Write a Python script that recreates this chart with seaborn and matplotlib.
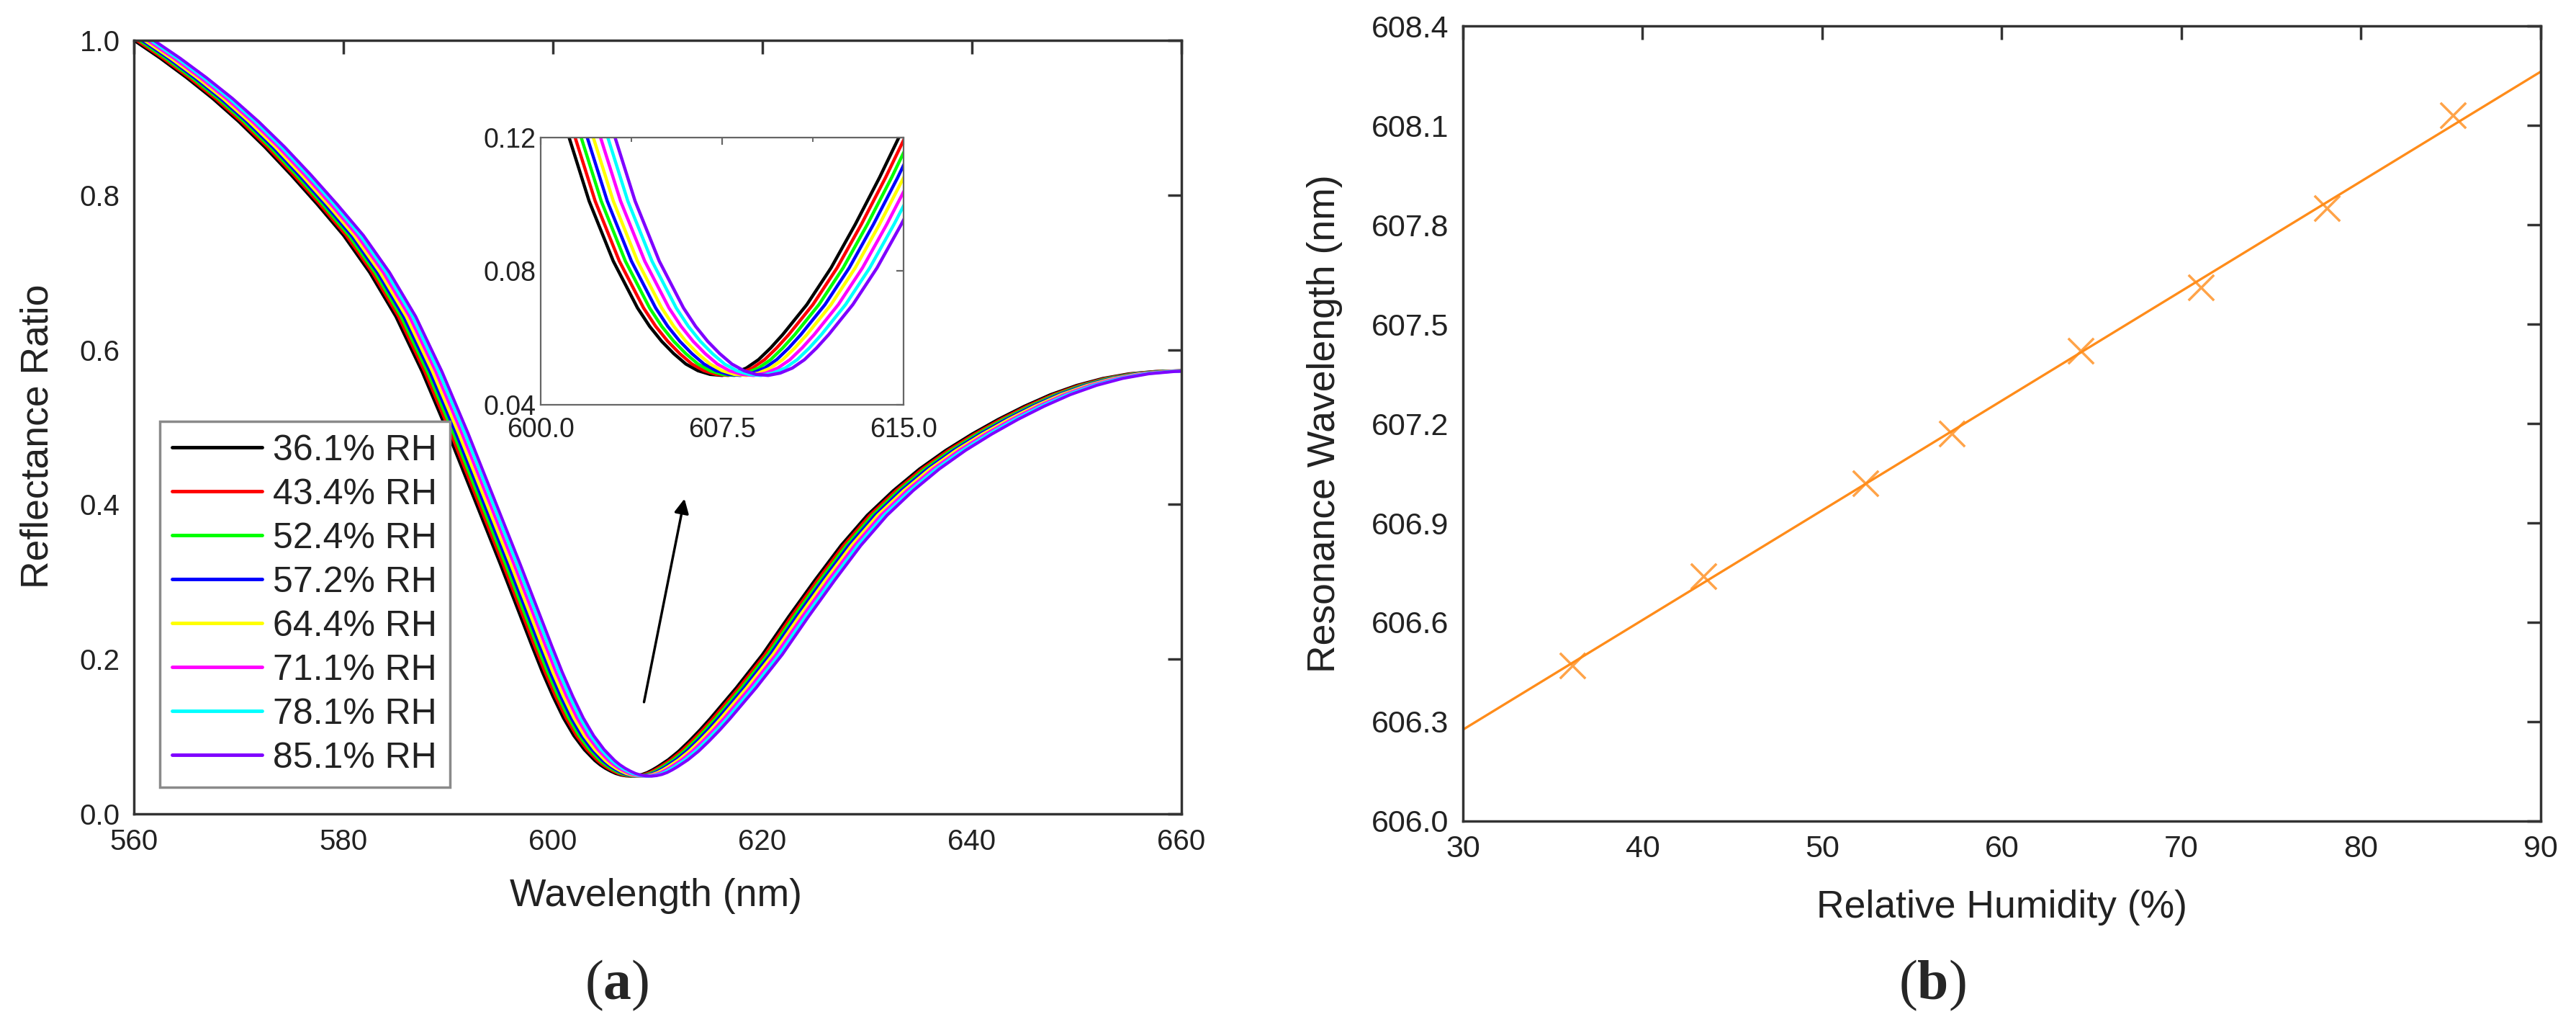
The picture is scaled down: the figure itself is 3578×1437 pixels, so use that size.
import numpy as np
import pandas as pd
import seaborn as sns
import matplotlib.pyplot as plt
from matplotlib.ticker import MultipleLocator, FormatStrFormatter

# spectrum of the 36.1% RH sample
wl_nm = [560, 562.5, 565, 567.5, 570, 572.5, 575, 577.5, 580, 582.5, 585, 587.5,
         590, 592.5, 595, 597, 598, 599, 600, 601, 602, 603, 604, 604.5, 605,
         605.5, 606, 606.5, 607, 607.5, 608, 608.5, 609, 609.5, 610, 610.5, 611,
         612, 613, 614, 615, 617.5, 620, 622.5, 625, 627.5, 630, 632.5, 635,
         637.5, 640, 642.5, 645, 647.5, 650, 652.5, 655, 657.5, 660]
refl_36 = [1.000, 0.977, 0.952, 0.925, 0.895, 0.862, 0.826, 0.788, 0.748, 0.700, 0.643, 0.572,
           0.492, 0.407, 0.322, 0.252, 0.217, 0.183, 0.152, 0.124, 0.101, 0.083, 0.069, 0.0635, 0.059,
           0.0553, 0.0522, 0.0502, 0.0491, 0.0488, 0.0495, 0.051, 0.0535, 0.057, 0.061, 0.0655, 0.070,
           0.081, 0.094, 0.108, 0.123, 0.163, 0.206, 0.255, 0.302, 0.347, 0.386, 0.418, 0.446,
           0.470, 0.491, 0.510, 0.527, 0.542, 0.554, 0.563, 0.569, 0.572, 0.573]

# red-shift of each spectrum relative to 36.1% RH, nm
rh_labels = ['36.1% RH', '43.4% RH', '52.4% RH', '57.2% RH',
             '64.4% RH', '71.1% RH', '78.1% RH', '85.1% RH']
shift_nm = [0.0, 0.25, 0.5, 0.75, 1.0, 1.3, 1.6, 1.9]
line_colors = ['#000000', '#FF0000', '#00FF00', '#0000FF',
               '#FFFF00', '#FF00FF', '#00FFFF', '#7F00FF']

# panel b
rh_pct = [36.1, 43.4, 52.4, 57.2, 64.4, 71.1, 78.1, 85.1]
res_nm = [606.47, 606.74, 607.02, 607.17, 607.42, 607.61, 607.85, 608.13]
orange = '#FF8C1A'

sns.set_style('white')
plt.rcParams['font.family'] = ['Liberation Sans', 'DejaVu Sans']
plt.rcParams['mathtext.fontset'] = 'custom'
plt.rcParams['mathtext.rm'] = 'Liberation Serif'
plt.rcParams['mathtext.bf'] = 'Liberation Serif:bold'

rows = []
for lab, s in zip(rh_labels, shift_nm):
    for w, r in zip(wl_nm, refl_36):
        rows.append((lab, w + s, r))
spec = pd.DataFrame(rows, columns=['RH', 'wl', 'R'])
pal = dict(zip(rh_labels, line_colors))

fig = plt.figure(figsize=(35.78, 14.37), dpi=100)
ax = fig.add_axes([0.0520, 0.2136, 0.4066, 0.7474])
ax2 = fig.add_axes([0.5679, 0.2067, 0.4184, 0.7682])
axin = fig.add_axes([0.2099, 0.6089, 0.1409, 0.2582])

spine_col = '#333333'


def style_axes(a, size, tick_len, lw, col):
    for sp in a.spines.values():
        sp.set_color(col)
        sp.set_linewidth(lw)
    a.tick_params(direction='in', length=tick_len, width=lw, top=True, right=True,
                  labelsize=size, colors=col, labelcolor='#222222')


# ---- panel a
sns.lineplot(data=spec, x='wl', y='R', hue='RH', hue_order=rh_labels, palette=pal,
             estimator=None, sort=False, lw=3, ax=ax)
ax.set_xlim(560, 660)
ax.set_ylim(0, 1.0)
ax.xaxis.set_major_locator(MultipleLocator(20))
ax.yaxis.set_major_locator(MultipleLocator(0.2))
ax.yaxis.set_major_formatter(FormatStrFormatter('%.1f'))
style_axes(ax, 29, 14, 2.5, spine_col)
ax.tick_params(axis='x', pad=14)
ax.tick_params(axis='y', pad=14)
ax.set_xlabel('Wavelength (nm)', fontsize=38.5, color='#222222', va='center')
ax.set_ylabel('Reflectance Ratio', fontsize=38.5, color='#222222', va='center')
ax.xaxis.set_label_coords(0.498, -0.106)
ax.yaxis.set_label_coords(-0.092, 0.488)

handles, labels = ax.get_legend_handles_labels()
leg = ax.legend(handles, labels, loc='lower left', bbox_to_anchor=(0.0247, 0.0345),
                borderaxespad=0, fontsize=36, handlelength=2.5, handletextpad=0.3,
                labelspacing=0.3, borderpad=0.35, fancybox=False, framealpha=1)
leg.get_frame().set_edgecolor('#8a8a8a')
leg.get_frame().set_linewidth(2.5)
for t in leg.get_texts():
    t.set_color('#222222')
for h in leg.get_lines():
    h.set_linewidth(3.5)

ax.annotate('', xy=(612.6, 0.41), xytext=(608.66, 0.142),
            arrowprops=dict(arrowstyle='-|>', color='black', lw=2.5, mutation_scale=30))

# inset zoom on the dip
sns.lineplot(data=spec, x='wl', y='R', hue='RH', hue_order=rh_labels, palette=pal,
             estimator=None, sort=False, lw=3.2, ax=axin, legend=False)
axin.set_xlim(600, 615)
axin.set_ylim(0.04, 0.12)
axin.set_xticks([600, 607.5, 615])
axin.set_yticks([0.04, 0.08, 0.12])
axin.xaxis.set_minor_locator(MultipleLocator(3.75))
axin.xaxis.set_major_formatter(FormatStrFormatter('%.1f'))
axin.yaxis.set_major_formatter(FormatStrFormatter('%.2f'))
style_axes(axin, 27, 7, 1.6, '#666666')
axin.tick_params(which='minor', direction='in', length=4, width=1.4, top=True, colors='#666666')
axin.tick_params(axis='x', pad=12)
axin.tick_params(axis='y', pad=5)
axin.set_xlabel('')
axin.set_ylabel('')

# ---- panel b
ax2.set_xlim(30, 90)
sns.regplot(x=rh_pct, y=res_nm, ax=ax2, ci=None, truncate=False, marker='x', color=orange,
            scatter_kws=dict(s=650, linewidths=2.5), line_kws=dict(lw=2.4))
ax2.set_xlim(30, 90)
ax2.set_ylim(606.0, 608.4)
ax2.xaxis.set_major_locator(MultipleLocator(10))
ax2.yaxis.set_major_locator(MultipleLocator(0.3))
ax2.yaxis.set_major_formatter(FormatStrFormatter('%.1f'))
style_axes(ax2, 31, 14, 2.5, spine_col)
ax2.tick_params(axis='x', pad=14)
ax2.tick_params(axis='y', pad=14)
ax2.set_xlabel('Relative Humidity (%)', fontsize=38.5, color='#222222', va='center')
ax2.set_ylabel('Resonance Wavelength (nm)', fontsize=38.5, color='#222222', va='center')
ax2.xaxis.set_label_coords(0.500, -0.109)
ax2.yaxis.set_label_coords(-0.128, 0.5)

fig.text(0.2395, 0.048, r'($\mathbf{a}$)', fontsize=56, ha='center', va='center',
         family='Liberation Serif')
fig.text(0.750, 0.048, r'($\mathbf{b}$)', fontsize=56, ha='center', va='center',
         family='Liberation Serif')

fig.savefig('out.png', dpi=100, facecolor='white')
